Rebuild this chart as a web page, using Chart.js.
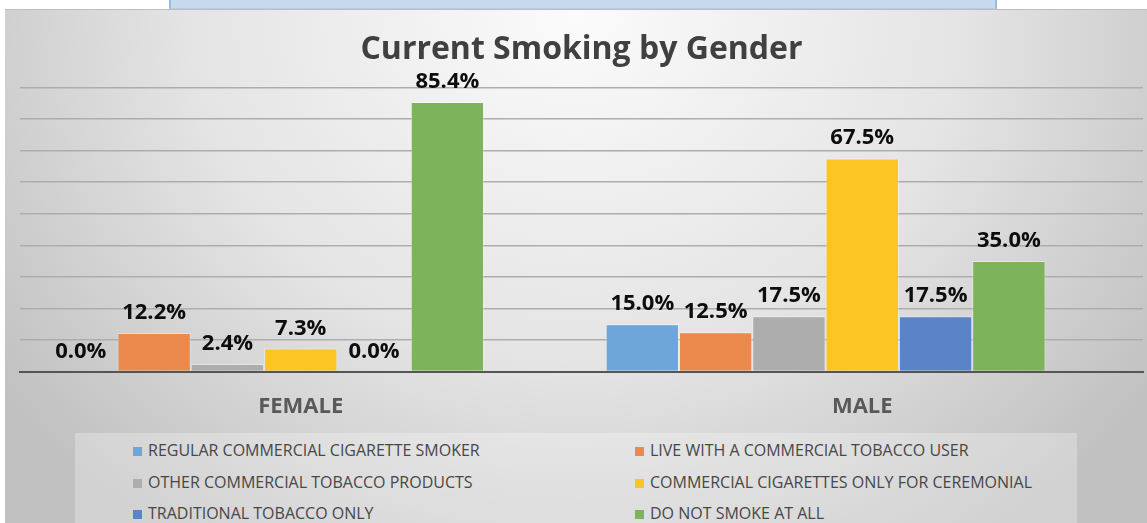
<!DOCTYPE html>
<html>
<head>
<meta charset="utf-8">
<script src="https://cdn.jsdelivr.net/npm/chart.js@4/dist/chart.umd.min.js"></script>
<style>
  html, body { margin: 0; padding: 0; background: #fff; width: 1147px; height: 523px; overflow: hidden; }
  #topbox { position: absolute; left: 169px; top: 0; width: 824px; height: 8px;
    background: #c6d9ef; border-left: 2px solid #9dbbe0; border-right: 2px solid #9dbbe0; border-bottom: 1px solid #b4cce8; }
  #frame { position: absolute; left: 5px; top: 9px; width: 1142px; height: 514px;
    border-top: 1px solid #bdbdbd;
    background: radial-gradient(ellipse 62% 125% at 50% 0%, #fbfbfb 0%, #e4e4e4 55%, #c1c1c1 100%); }
  #wrap { position: absolute; left: 0; top: 0; width: 1147px; height: 523px; }
  #legend { position: absolute; left: 75px; top: 433px; width: 1002px; height: 90px;
    background: rgba(255,255,255,0.28); }
  .item { position: absolute; font-family: "Open Sans", sans-serif; font-size: 16px; color: #474747;
    line-height: 20px; white-space: nowrap; }
  .item i { display: inline-block; width: 9px; height: 9px; margin-right: 6px; vertical-align: 0px; }
</style>
</head>
<body>
<div id="topbox"></div>
<div id="frame"></div>
<div id="legend"></div>
<div id="wrap"><canvas id="smoking"></canvas></div>
<script>
const genders = ['FEMALE', 'MALE'];

const regularSmoker = [0.0, 15.0];
const liveWithUser = [12.2, 12.5];
const otherProducts = [2.4, 17.5];
const ceremonialOnly = [7.3, 67.5];
const traditionalOnly = [0.0, 17.5];
const doNotSmoke = [85.4, 35.0];

const seriesNames = [
  'REGULAR COMMERCIAL CIGARETTE SMOKER',
  'LIVE WITH A COMMERCIAL TOBACCO USER',
  'OTHER COMMERCIAL TOBACCO PRODUCTS',
  'COMMERCIAL CIGARETTES ONLY FOR CEREMONIAL',
  'TRADITIONAL TOBACCO ONLY',
  'DO NOT SMOKE AT ALL'
];
const seriesColors = ['#6ea6d9', '#eb8a4c', '#adadad', '#fcc524', '#5b84c8', '#7db35b'];
const seriesValues = [regularSmoker, liveWithUser, otherProducts, ceremonialOnly, traditionalOnly, doNotSmoke];

// excel chart keeps an empty 7th slot, which pushes the bars left
const emptySlot = [null, null];

const datasets = seriesValues.map((vals, i) => ({
  label: seriesNames[i],
  data: vals,
  backgroundColor: seriesColors[i],
  borderColor: 'rgba(255,255,255,0.35)',
  borderWidth: 1,
  categoryPercentage: 0.914,
  barPercentage: 1
}));
datasets.push({ label: '', data: emptySlot, categoryPercentage: 0.914, barPercentage: 1 });

// value labels above the bars
const valueLabels = {
  id: 'valueLabels',
  afterDatasetsDraw(chart) {
    const ctx = chart.ctx;
    ctx.save();
    ctx.font = 'bold 22px "Open Sans"';
    ctx.fillStyle = '#0d0d0d';
    ctx.textAlign = 'center';
    ctx.textBaseline = 'alphabetic';
    chart.data.datasets.forEach((ds, di) => {
      if (!ds.label) return;
      chart.getDatasetMeta(di).data.forEach((bar, j) => {
        ctx.fillText(ds.data[j].toFixed(1) + '%', bar.x, bar.y - 14);
      });
    });
    ctx.restore();
  }
};

const config = {
  type: 'bar',
  data: { labels: genders, datasets },
  options: {
    responsive: true,
    maintainAspectRatio: false,
    animation: false,
    layout: { padding: { left: 20, right: 4, top: 0, bottom: 81 } },
    scales: {
      x: {
        grid: { display: false, drawTicks: false },
        border: { display: true, color: '#555555', width: 2 },
        ticks: { color: '#595959', font: { family: 'Open Sans', size: 22, weight: 'bold' }, padding: 22 }
      },
      y: {
        min: 0,
        max: 90,
        ticks: { display: false, stepSize: 10 },
        border: { display: false },
        grid: { color: '#adadad', lineWidth: 1.5, drawTicks: false }
      }
    },
    plugins: {
      title: {
        display: true,
        text: 'Current Smoking by Gender',
        color: '#404040',
        font: { family: 'Open Sans', size: 32, weight: 'bold' },
        padding: { top: 31, bottom: 18 }
      },
      legend: { display: false },
      tooltip: { enabled: false }
    }
  },
  plugins: [valueLabels]
};

const smokingChart = new Chart(document.getElementById('smoking'), config);

// legend in two columns like the excel one
const legendBox = document.getElementById('legend');
smokingChart.data.datasets.forEach((ds, i) => {
  if (!ds.label) return;
  const el = document.createElement('div');
  el.className = 'item';
  el.style.left = (i % 2 === 0 ? 58 : 560) + 'px';
  el.style.top = (7 + Math.floor(i / 2) * 31.5) + 'px';
  el.innerHTML = '<i style="background:' + ds.backgroundColor + '"></i>' + ds.label;
  legendBox.appendChild(el);
});
</script>
</body>
</html>
